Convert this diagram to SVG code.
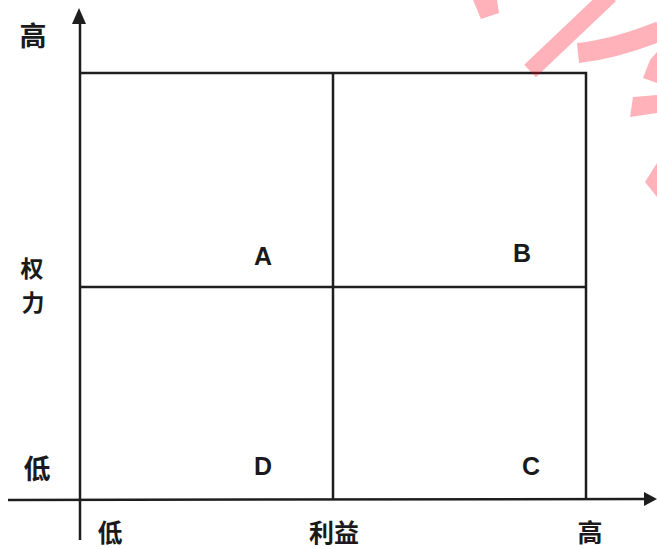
<svg xmlns="http://www.w3.org/2000/svg" width="657" height="549" viewBox="0 0 657 549">
<defs>
<style>
.ln{stroke:#1e1e1e;stroke-width:2.5;fill:none}
.ah{fill:#1e1e1e;stroke:none}
.cjk{font-family:"Noto Sans CJK SC","Noto Sans CJK JP",sans-serif;font-size:27px;font-weight:bold;fill:#1a1a1a;text-anchor:middle}
.cjk2{font-family:"Noto Sans CJK SC","Noto Sans CJK JP",sans-serif;font-size:23px;font-weight:bold;fill:#1a1a1a;text-anchor:middle}
.cjk3{font-family:"Noto Sans CJK SC","Noto Sans CJK JP",sans-serif;font-size:25px;font-weight:bold;fill:#1a1a1a;text-anchor:middle}
.lat{font-family:"Liberation Sans",Arial,sans-serif;font-size:25px;font-weight:bold;fill:#1a1a1a;text-anchor:middle}
.wm{fill:#ff0016;fill-opacity:0.3;stroke:none}
.wms{stroke:#ff0016;stroke-opacity:0.3;fill:none}
</style>
</defs>
<rect width="657" height="549" fill="#ffffff"/>
<g id="connectors">
<line class="ln" x1="80" y1="540" x2="80" y2="20"/>
<path class="ah" d="M79,8 L86,24 L72,24 Z"/>
<line class="ln" x1="8" y1="500" x2="648" y2="499"/>
<path class="ah" d="M657,499 L644,506 L644,492 Z"/>
<polyline class="ln" points="80,73 586,73 586,500"/>
<line class="ln" x1="333" y1="73" x2="333" y2="500"/>
<line class="ln" x1="80" y1="287" x2="586" y2="287"/>
</g>
<g id="axis-labels">
<text class="cjk" x="33" y="46">高</text>
<text class="cjk2" x="32" y="277">权</text>
<text class="cjk2" x="33" y="311">力</text>
<text class="cjk" x="37" y="479">低</text>
<text class="cjk3" x="110" y="542">低</text>
<text class="cjk3" x="334" y="542">利益</text>
<text class="cjk3" x="590" y="542">高</text>
</g>
<g id="quadrant-A"><text class="lat" x="263" y="265">A</text></g>
<g id="quadrant-B"><text class="lat" x="522" y="262">B</text></g>
<g id="quadrant-D"><text class="lat" x="263" y="475">D</text></g>
<g id="quadrant-C"><text class="lat" x="531" y="475">C</text></g>
<g id="watermark">
<polygon class="wm" points="473,0 497,0 499,13 481,19"/>
<line class="wms" x1="530" y1="71" x2="610" y2="-5" stroke-width="17"/>
<path class="wms" d="M578,53 Q615,49 660,31" stroke-width="20"/>
<polygon class="wm" points="657,52 657,83 643,78 650,60"/>
<polygon class="wm" points="633,97 657,95 657,113 630,117"/>
<polygon class="wm" points="645,182 657,163 657,197"/>
</g>
</svg>
